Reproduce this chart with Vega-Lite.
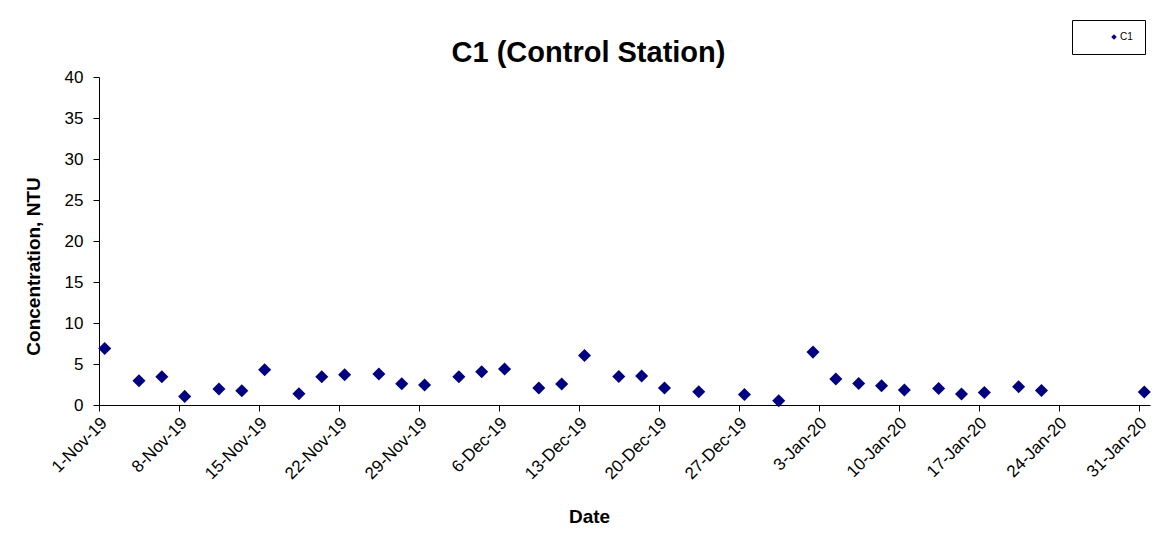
{
  "$schema": "https://vega.github.io/schema/vega-lite/v6.json",
  "autosize": {"type": "none"},
  "padding": {"left": 99, "top": 77, "right": 14, "bottom": 130},
  "width": 1051,
  "height": 328,
  "background": "white",
  "title": {
    "text": "C1 (Control Station)",
    "font": "Liberation Sans",
    "fontSize": 29,
    "fontWeight": "bold",
    "color": "#000000",
    "anchor": "middle",
    "baseline": "alphabetic",
    "offset": 15,
    "dx": -36,
    "dy": 86
  },
  "data": {
    "values": [
      {"date": "2019-11-01T12:00:00", "value": 6.9, "series": "C1"},
      {"date": "2019-11-04T12:00:00", "value": 2.96, "series": "C1"},
      {"date": "2019-11-06T12:00:00", "value": 3.45, "series": "C1"},
      {"date": "2019-11-08T12:00:00", "value": 1.05, "series": "C1"},
      {"date": "2019-11-11T12:00:00", "value": 1.94, "series": "C1"},
      {"date": "2019-11-13T12:00:00", "value": 1.74, "series": "C1"},
      {"date": "2019-11-15T12:00:00", "value": 4.3, "series": "C1"},
      {"date": "2019-11-18T12:00:00", "value": 1.38, "series": "C1"},
      {"date": "2019-11-20T12:00:00", "value": 3.45, "series": "C1"},
      {"date": "2019-11-22T12:00:00", "value": 3.69, "series": "C1"},
      {"date": "2019-11-25T12:00:00", "value": 3.77, "series": "C1"},
      {"date": "2019-11-27T12:00:00", "value": 2.59, "series": "C1"},
      {"date": "2019-11-29T12:00:00", "value": 2.43, "series": "C1"},
      {"date": "2019-12-02T12:00:00", "value": 3.45, "series": "C1"},
      {"date": "2019-12-04T12:00:00", "value": 4.05, "series": "C1"},
      {"date": "2019-12-06T12:00:00", "value": 4.38, "series": "C1"},
      {"date": "2019-12-09T12:00:00", "value": 2.07, "series": "C1"},
      {"date": "2019-12-11T12:00:00", "value": 2.55, "series": "C1"},
      {"date": "2019-12-13T12:00:00", "value": 6.04, "series": "C1"},
      {"date": "2019-12-16T12:00:00", "value": 3.48, "series": "C1"},
      {"date": "2019-12-18T12:00:00", "value": 3.53, "series": "C1"},
      {"date": "2019-12-20T12:00:00", "value": 2.07, "series": "C1"},
      {"date": "2019-12-23T12:00:00", "value": 1.62, "series": "C1"},
      {"date": "2019-12-27T12:00:00", "value": 1.29, "series": "C1"},
      {"date": "2019-12-30T12:00:00", "value": 0.52, "series": "C1"},
      {"date": "2020-01-02T12:00:00", "value": 6.45, "series": "C1"},
      {"date": "2020-01-04T12:00:00", "value": 3.16, "series": "C1"},
      {"date": "2020-01-06T12:00:00", "value": 2.63, "series": "C1"},
      {"date": "2020-01-08T12:00:00", "value": 2.35, "series": "C1"},
      {"date": "2020-01-10T12:00:00", "value": 1.83, "series": "C1"},
      {"date": "2020-01-13T12:00:00", "value": 2.02, "series": "C1"},
      {"date": "2020-01-15T12:00:00", "value": 1.34, "series": "C1"},
      {"date": "2020-01-17T12:00:00", "value": 1.53, "series": "C1"},
      {"date": "2020-01-20T12:00:00", "value": 2.23, "series": "C1"},
      {"date": "2020-01-22T12:00:00", "value": 1.78, "series": "C1"},
      {"date": "2020-01-31T12:00:00", "value": 1.58, "series": "C1"}
    ]
  },
  "mark": {"type": "point", "shape": "diamond", "filled": true, "size": 170, "opacity": 1},
  "encoding": {
    "x": {
      "field": "date",
      "type": "temporal",
      "title": "Date",
      "scale": {
        "domain": [
          {"year": 2019, "month": "nov", "date": 1},
          {"year": 2020, "month": "feb", "date": 1}
        ]
      },
      "axis": {
        "values": [
          {"year": 2019, "month": "nov", "date": 1},
          {"year": 2019, "month": "nov", "date": 8},
          {"year": 2019, "month": "nov", "date": 15},
          {"year": 2019, "month": "nov", "date": 22},
          {"year": 2019, "month": "nov", "date": 29},
          {"year": 2019, "month": "dec", "date": 6},
          {"year": 2019, "month": "dec", "date": 13},
          {"year": 2019, "month": "dec", "date": 20},
          {"year": 2019, "month": "dec", "date": 27},
          {"year": 2020, "month": "jan", "date": 3},
          {"year": 2020, "month": "jan", "date": 10},
          {"year": 2020, "month": "jan", "date": 17},
          {"year": 2020, "month": "jan", "date": 24},
          {"year": 2020, "month": "jan", "date": 31}
        ],
        "format": "%-d-%b-%y",
        "labelAngle": -45,
        "labelAlign": "right",
        "labelBaseline": "middle",
        "labelOffset": 5,
        "labelPadding": 9,
        "labelOverlap": false,
        "labelFlush": false,
        "grid": false,
        "tickSize": 6,
        "titleX": 490,
        "titleY": 117,
        "titleAnchor": "middle",
        "titleAlign": "center",
        "titleBaseline": "alphabetic"
      }
    },
    "y": {
      "field": "value",
      "type": "quantitative",
      "title": "Concentration, NTU",
      "scale": {"domain": [0, 40], "nice": false},
      "axis": {
        "values": [0, 5, 10, 15, 20, 25, 30, 35, 40],
        "grid": false,
        "tickSize": 6,
        "labelPadding": 10,
        "titleX": -66,
        "titleY": 189,
        "titleAlign": "center",
        "titleBaseline": "middle",
        "titleAngle": -90
      }
    },
    "color": {
      "field": "series",
      "type": "nominal",
      "scale": {"range": ["#000080"]},
      "legend": {
        "title": null,
        "orient": "none",
        "legendX": 973,
        "legendY": -57,
        "padding": 12,
        "symbolOffset": 25,
        "symbolType": "diamond",
        "symbolSize": 30,
        "labelFontSize": 10,
        "labelOffset": 1,
        "strokeColor": "#000000",
        "fillColor": "#ffffff"
      }
    }
  },
  "config": {
    "view": {"stroke": null},
    "font": "Liberation Sans",
    "axis": {
      "domainColor": "#000000",
      "tickColor": "#000000",
      "labelColor": "#000000",
      "titleColor": "#000000",
      "labelFont": "Liberation Sans",
      "titleFont": "Liberation Sans",
      "labelFontSize": 17,
      "titleFontSize": 19,
      "titleFontWeight": "bold"
    },
    "legend": {"labelFont": "Liberation Sans", "labelColor": "#000000"}
  }
}
